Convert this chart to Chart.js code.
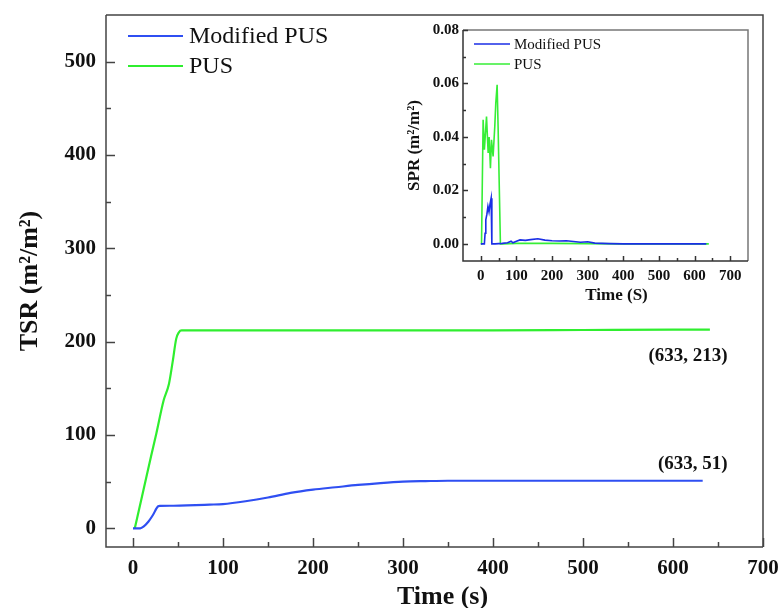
<!DOCTYPE html>
<html><head><meta charset="utf-8">
<script src="https://cdn.jsdelivr.net/npm/chart.js@4"></script>
<style>
html,body{margin:0;padding:0;background:#fff;}
#wrap{position:relative;width:781px;height:608px;overflow:hidden;background:#fff;}
#main{position:absolute;left:0;top:0;}
#inset{position:absolute;left:400px;top:15px;}
</style></head><body>
<div id="wrap"><canvas id="main" width="781" height="608"></canvas><canvas id="inset" width="370" height="300"></canvas></div>
<script>
// ---------- data ----------
const seriesNames = ['Modified PUS', 'PUS'];

// Main chart: total smoke release (TSR)
const tsrModTime  = [0, 8, 12, 17, 22, 28, 30, 45, 60, 85, 100, 125, 150, 175, 200, 225, 250, 275, 300, 325, 350, 400, 500, 600, 633];
const tsrModValue = [0, 0, 2, 7, 14, 23.6, 24, 24.2, 24.5, 25.4, 26, 29, 33, 38, 41.5, 44, 46.5, 48.5, 50, 50.6, 51, 51, 51, 51, 51];
const tsrPusTime  = [2, 10, 20, 26, 34, 40, 44, 48, 51, 54, 60, 100, 200, 300, 400, 500, 600, 641];
const tsrPusValue = [0, 34, 77, 102, 137, 155, 178, 203, 210, 212, 212, 212, 212, 212, 212, 212.5, 213, 213];

// Inset: smoke production rate (SPR)
const sprModTime  = [0, 10, 12, 14, 17, 20, 23, 26, 29, 31, 40, 60, 75, 85, 90, 100, 110, 125, 140, 160, 180, 200, 220, 240, 260, 280, 300, 320, 340, 360, 400, 500, 633];
const sprModValue = [0, 0, 0.004, 0.009, 0.011, 0.014, 0.012, 0.015, 0.0171, 0, 0, 0.0002, 0.0004, 0.001, 0.0004, 0.001, 0.0015, 0.0013, 0.0016, 0.0019, 0.0014, 0.0012, 0.0011, 0.0012, 0.0009, 0.0006, 0.0008, 0.0003, 0.0002, 0.0001, 0, 0, 0];
const sprPusTime  = [0, 2, 6.5, 10, 16, 20.6, 23.4, 27, 30, 34.5, 39.2, 42, 45.8, 48.5, 55, 60, 100, 200, 300, 400, 500, 640];
const sprPusValue = [0, 0, 0.0464, 0.0352, 0.0476, 0.034, 0.040, 0.0283, 0.0389, 0.0327, 0.0439, 0.0526, 0.0595, 0.0439, 0, 0, 0.0002, 0.0002, 0.0001, 0, 0, 0];

// Tick labels
const mainXTicks  = [0, 100, 200, 300, 400, 500, 600, 700];
const mainYTicks  = [0, 100, 200, 300, 400, 500];
const insetXTicks = [0, 100, 200, 300, 400, 500, 600, 700];
const insetYTicks = [0, 0.02, 0.04, 0.06, 0.08];

// End-point annotations
const endLabels = ['(633, 213)', '(633, 51)'];

// ---------- helpers ----------
const FONT = '"Liberation Serif", "Times New Roman", serif';
const BLUE = '#2f4ff2', GREEN = '#2fee2f';
const BLUE2 = '#1a2ee6', GREEN2 = '#36ee36';
const pts = (xs, ys) => xs.map((x, i) => ({x: x, y: ys[i]}));
const noPad = s => { s.paddingLeft = 0; s.paddingRight = 0; s.paddingTop = 0; s.paddingBottom = 0; };

const framePlugin = {
  id: 'frame',
  afterDatasetsDraw(chart, args, o) {
    const {ctx, chartArea: a, scales: {x, y}} = chart;
    ctx.save();
    ctx.lineWidth = o.width;
    ctx.strokeStyle = o.frameColor;
    ctx.beginPath(); ctx.moveTo(a.left, a.top); ctx.lineTo(a.right, a.top); ctx.lineTo(a.right, a.bottom); ctx.stroke();
    ctx.strokeStyle = o.axisColor;
    ctx.beginPath(); ctx.moveTo(a.left, a.top); ctx.lineTo(a.left, a.bottom); ctx.lineTo(a.right, a.bottom); ctx.stroke();
    const line = (x1, y1, x2, y2) => { ctx.beginPath(); ctx.moveTo(x1, y1); ctx.lineTo(x2, y2); ctx.stroke(); };
    const withMinor = (vals, max) => {
      const out = [];
      for (let i = 0; i < vals.length; i++) {
        out.push([vals[i], true]);
        const step = i < vals.length - 1 ? vals[i + 1] - vals[i] : vals[i] - vals[i - 1];
        const m = vals[i] + step / 2;
        if (m < max - 1e-9) out.push([m, false]);
      }
      return out;
    };
    withMinor(x.ticks.map(t => t.value), x.max).forEach(([v, major]) => {
      const px = Math.round(x.getPixelForValue(v)) + 0.5;
      line(px, a.bottom, px, a.bottom - (major ? o.major : o.minor));
    });
    withMinor(y.ticks.map(t => t.value), y.max).forEach(([v, major]) => {
      const py = Math.round(y.getPixelForValue(v)) + 0.5;
      line(a.left, py, a.left + (major ? o.major : o.minor), py);
    });
    ctx.restore();
  }
};

const legendPlugin = {
  id: 'lineLegend',
  afterDraw(chart, args, o) {
    const ctx = chart.ctx;
    ctx.save();
    ctx.font = o.size + 'px ' + FONT;
    ctx.textBaseline = 'middle';
    ctx.fillStyle = '#111';
    chart.data.datasets.forEach((ds, i) => {
      const yy = o.y + i * o.dy;
      ctx.strokeStyle = ds.borderColor; ctx.lineWidth = o.lw;
      ctx.beginPath(); ctx.moveTo(o.x, yy); ctx.lineTo(o.x + o.len, yy); ctx.stroke();
      ctx.fillText(ds.label, o.x + o.len + o.gap, yy + 1);
    });
    ctx.restore();
  }
};

const notePlugin = {
  id: 'notes',
  afterDraw(chart, args, o) {
    const {ctx, chartArea: a, scales: {x, y}} = chart;
    ctx.save();
    ctx.fillStyle = '#111';
    if (o.xTitle) {
      ctx.font = 'bold ' + o.xTitle.size + 'px ' + FONT;
      ctx.textAlign = 'center'; ctx.textBaseline = 'middle';
      ctx.fillText(o.xTitle.text, (a.left + a.right) / 2 + o.xTitle.dx, chart.height - o.xTitle.fromBottom);
    }
    if (o.items) {
      ctx.font = 'bold ' + o.size + 'px ' + FONT;
      ctx.textAlign = 'right'; ctx.textBaseline = 'middle';
      o.items.forEach(it => {
        ctx.fillText(it.text, x.getPixelForValue(it.x) + it.dx, y.getPixelForValue(it.y) + it.dy);
      });
    }
    ctx.restore();
  }
};

// ---------- main chart ----------
new Chart(document.getElementById('main'), {
  type: 'line',
  data: {datasets: [
    {label: seriesNames[0], data: pts(tsrModTime, tsrModValue), borderColor: BLUE, borderWidth: 2.2, pointRadius: 0, fill: false, cubicInterpolationMode: 'monotone'},
    {label: seriesNames[1], data: pts(tsrPusTime, tsrPusValue), borderColor: GREEN, borderWidth: 2.2, pointRadius: 0, fill: false, cubicInterpolationMode: 'monotone'}
  ]},
  options: {
    responsive: false, animation: false, devicePixelRatio: 1,
    layout: {padding: {top: 15, right: 18, left: 0, bottom: 0}},
    plugins: {
      legend: {display: false}, tooltip: {enabled: false},
      frame: {width: 1.5, frameColor: '#444', axisColor: '#444', major: 9, minor: 5},
      lineLegend: {x: 128, y: 36, dy: 30, len: 55, gap: 6, size: 24, lw: 2.2},
      notes: {size: 19,
        xTitle: {text: 'Time (s)', size: 26, dx: 8, fromBottom: 11},
        items: [
          {text: endLabels[0], x: 633, y: 213, dx: 25, dy: 27},
          {text: endLabels[1], x: 633, y: 51, dx: 25, dy: -17}
        ]}
    },
    scales: {
      x: {
        type: 'linear', min: -30, max: 700,
        afterBuildTicks: s => { s.ticks = mainXTicks.map(v => ({value: v})); },
        afterFit: s => { s.height = 61; noPad(s); },
        grid: {display: false, drawTicks: false}, border: {display: false},
        ticks: {font: {family: FONT, size: 21, weight: 'bold'}, color: '#111', padding: 9, maxRotation: 0, autoSkip: false},
        title: {display: false}
      },
      y: {
        type: 'linear', min: -20, max: 550,
        afterBuildTicks: s => { s.ticks = mainYTicks.map(v => ({value: v})); },
        afterFit: s => { s.width = 106; noPad(s); },
        grid: {display: false, drawTicks: false}, border: {display: false},
        ticks: {font: {family: FONT, size: 21, weight: 'bold'}, color: '#111', padding: 10, autoSkip: false},
        title: {display: true, text: 'TSR (m²/m²)', color: '#111', font: {family: FONT, size: 26, weight: 'bold', lineHeight: 1}, padding: {top: 17, bottom: 0}}
      }
    }
  },
  plugins: [framePlugin, legendPlugin, notePlugin]
});

// ---------- inset chart ----------
new Chart(document.getElementById('inset'), {
  type: 'line',
  data: {datasets: [
    {label: seriesNames[0], data: pts(sprModTime, sprModValue), borderColor: BLUE2, borderWidth: 1.6, pointRadius: 0, fill: false, tension: 0},
    {label: seriesNames[1], data: pts(sprPusTime, sprPusValue), borderColor: GREEN2, borderWidth: 1.6, pointRadius: 0, fill: false, tension: 0}
  ]},
  options: {
    responsive: false, animation: false, devicePixelRatio: 1,
    layout: {padding: {top: 15, right: 22, left: 0, bottom: 0}},
    plugins: {
      legend: {display: false}, tooltip: {enabled: false},
      frame: {width: 1.5, frameColor: '#777', axisColor: '#333', major: 5, minor: 3},
      lineLegend: {x: 74, y: 29, dy: 20, len: 36, gap: 4, size: 15, lw: 1.6},
      notes: {xTitle: {text: 'Time (S)', size: 17, dx: 11, fromBottom: 19}}
    },
    scales: {
      x: {
        type: 'linear', min: -50, max: 750,
        afterBuildTicks: s => { s.ticks = insetXTicks.map(v => ({value: v})); },
        afterFit: s => { s.height = 54; noPad(s); },
        grid: {display: false, drawTicks: false}, border: {display: false},
        ticks: {font: {family: FONT, size: 15, weight: 'bold'}, color: '#111', padding: 6, maxRotation: 0, autoSkip: false},
        title: {display: false}
      },
      y: {
        type: 'linear', min: -0.0064, max: 0.08,
        afterBuildTicks: s => { s.ticks = insetYTicks.map(v => ({value: v})); },
        afterFit: s => { s.width = 63; noPad(s); },
        grid: {display: false, drawTicks: false}, border: {display: false},
        ticks: {font: {family: FONT, size: 15, weight: 'bold'}, color: '#111', padding: 4, autoSkip: false, callback: v => Number(v).toFixed(2)},
        title: {display: true, text: 'SPR (m²/m²)', color: '#111', font: {family: FONT, size: 17, weight: 'bold', lineHeight: 1}, padding: {top: 6, bottom: 0}}
      }
    }
  },
  plugins: [framePlugin, legendPlugin, notePlugin]
});
</script>
</body></html>
